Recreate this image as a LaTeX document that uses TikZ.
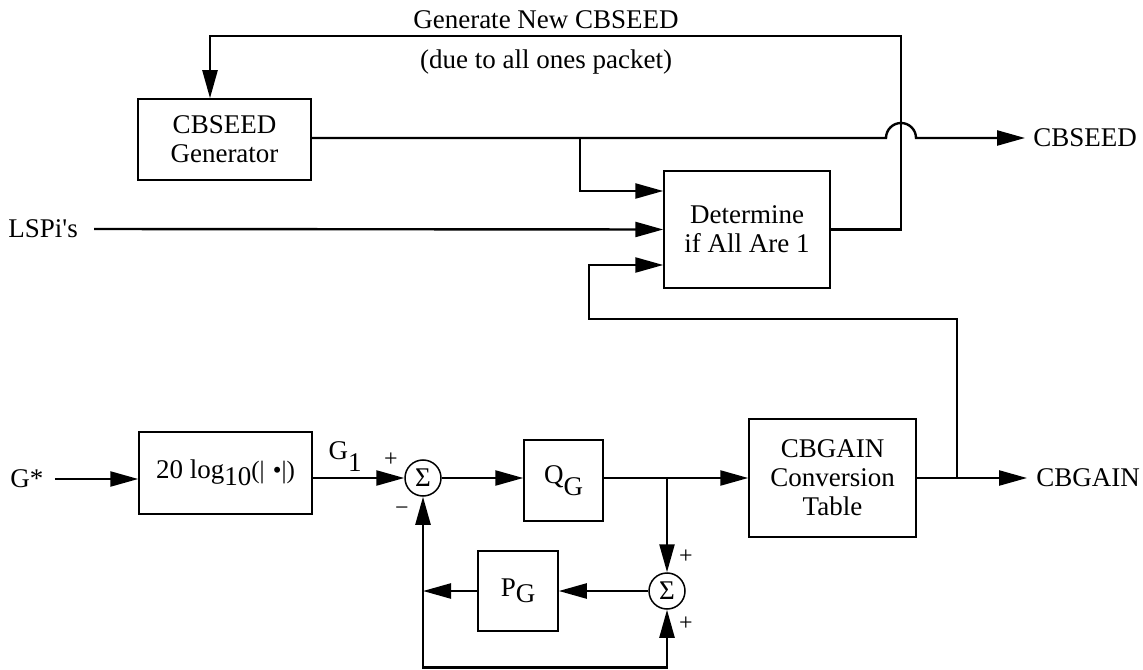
\documentclass[tikz,border=0pt]{standalone}
\usepackage{fontspec}
\setmainfont{Liberation Serif}
\usetikzlibrary{arrows.meta}
\begin{document}
\begin{tikzpicture}[x=0.5pt,y=0.5pt,
  every node/.style={font=\fontsize{13.5}{14.5}\selectfont},
  sig/.style={line width=1.2pt},
  arr/.style={sig,-{Triangle[length=14pt,width=7.5pt]}},
  blk/.style={draw,line width=0.75pt,inner sep=0pt,align=center},
  sumnode/.style={draw,circle,line width=0.75pt,inner sep=0pt,minimum size=18pt,
    font=\fontsize{13.5}{13.5}\selectfont},
  lbl/.style={inner sep=0pt},
  sgn/.style={inner sep=0pt,font=\fontsize{12}{12}\selectfont}]
\useasboundingbox (0,0) rectangle (1143,669);

% blocks
\node[blk,minimum width=86.5pt,minimum height=40.5pt] (gen) at (224.5,529.5) {CBSEED\\Generator};
\node[blk,minimum width=83pt,minimum height=58.5pt] (det) at (747,439.5) {Determine\\if All Are 1};
\node[blk,minimum width=86.5pt,minimum height=41pt] (log) at (225.5,196)
  {20 log\raisebox{-3.5pt}{10}{\fontsize{12.5}{13}\selectfont(|\,\,•|)}};
\node[sumnode] (s1) at (423,191) {Σ};
\node[blk,minimum width=39.5pt,minimum height=40.5pt] (q) at (563.5,188.5) {Q\raisebox{-6pt}{G}};
\node[blk,minimum width=83.5pt,minimum height=59pt] (cbg) at (832.5,191) {CBGAIN\\Conversion\\Table};
\node[sumnode] (s2) at (667,78) {Σ};
\node[blk,minimum width=40pt,minimum height=40pt] (p) at (518,78) {P\raisebox{-3pt}{G}};

% inputs, outputs and signal names
\node[lbl,anchor=west] (gstar) at (10,190) {G*};
\node[lbl,anchor=west] (lsp) at (8,440) {LSPi\textquotesingle s};
\node[lbl,anchor=west] (seedout) at (1033,531) {CBSEED};
\node[lbl,anchor=west] (gainout) at (1036,191) {CBGAIN};
\node[lbl] (t1) at (546,649) {Generate New CBSEED};
\node[lbl] (t2) at (546,607) {(due to all ones packet)};
\node[lbl] (g1) at (345,212) {G\raisebox{-6pt}{1}};
\node[sgn] (p1) at (391,209) {+};
\node[sgn] (m1) at (402,158) {−};
\node[sgn] (p2) at (686,112) {+};
\node[sgn] (p3) at (686,45) {+};

% routing points
\coordinate (tl) at (210,633);
\coordinate (tr) at (901,633);
\coordinate (jumpl) at (886,531);
\coordinate (b1) at (580,531);
\coordinate (j1) at (667,191);
\coordinate (j2) at (423,78);
\coordinate (j3) at (957,191);
\coordinate (f1) at (589,350);
\coordinate (bot) at (423,1.5);

% CBSEED path
\draw[arr,shorten >=4pt] (gen.east |- b1) -- (jumpl) arc[start angle=180,end angle=0,radius=7.5pt] -- (seedout.west);
\draw[arr] (b1) |- ([yshift=19.25pt]det.west);
\draw[arr,shorten <=8pt] (lsp.east) -- (det.west);
\draw[arr] (det.east) -| (tr) -- (tl) -- (tl |- gen.north);

% gain path
\draw[arr,shorten <=5.5pt] (gstar.east) -- (gstar.east -| log.west);
\draw[arr] (log.east |- s1) -- (s1.west);
\draw[arr] (s1.east) -- (q.west |- s1.east);
\draw[arr] (q.east |- j1) -- (cbg.west);
\draw[arr,shorten >=4.5pt] (cbg.east) -- (gainout.west);
\draw[arr] (j3) |- (f1) |- ([yshift=-17.75pt]det.west);

% prediction loop
\draw[arr] (j1) -- (s2.north);
\draw[arr] (s2.west) -- (p.east);
\draw[arr] (p.west) -- (j2);
\draw[arr] (j2) -- (s1.south);
\draw[arr] (j2) -- (bot) -| (s2.south);
\end{tikzpicture}
\end{document}
